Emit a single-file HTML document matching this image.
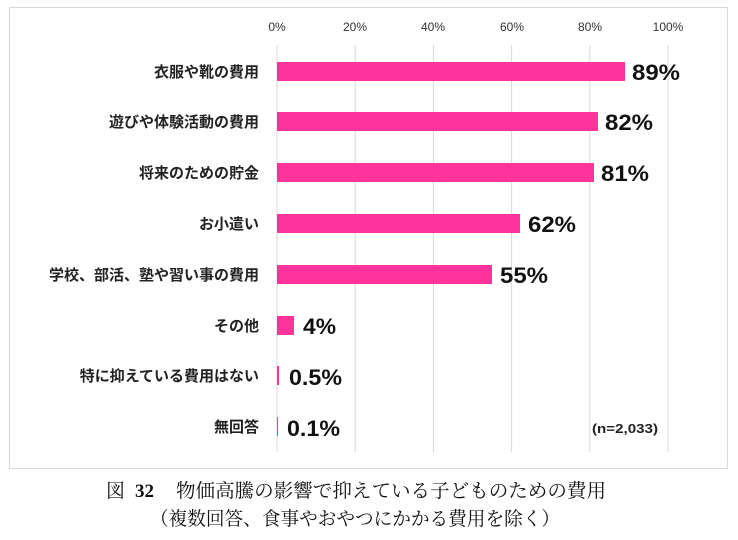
<!DOCTYPE html>
<html><head><meta charset="utf-8"><style>
body{margin:0;background:#fff;}
svg{display:block;}
</style></head><body>
<svg width="738" height="540" xmlns="http://www.w3.org/2000/svg">
<rect x="9.5" y="7.5" width="718" height="461" fill="#fff" stroke="#d9d9d9" stroke-width="1"/>
<g stroke="#d9d9d9" stroke-width="1">
<line x1="277" y1="45" x2="277" y2="452"/>
<line x1="355.2" y1="45" x2="355.2" y2="452"/>
<line x1="433.4" y1="45" x2="433.4" y2="452"/>
<line x1="511.6" y1="45" x2="511.6" y2="452"/>
<line x1="589.8" y1="45" x2="589.8" y2="452"/>
<line x1="668" y1="45" x2="668" y2="452"/>
</g>
<g font-family="Liberation Sans, sans-serif" font-size="12" fill="#333" text-anchor="middle">
<text x="277" y="31">0%</text><text x="355" y="31">20%</text><text x="433" y="31">40%</text>
<text x="512" y="31">60%</text><text x="590" y="31">80%</text><text x="668" y="31">100%</text>
</g>
<g fill="#ff3399">
<rect x="277" y="62" width="348" height="19"/>
<rect x="277" y="112" width="321" height="19"/>
<rect x="277" y="163" width="317" height="19"/>
<rect x="277" y="214" width="243" height="19"/>
<rect x="277" y="265" width="215" height="19"/>
<rect x="277" y="316" width="17" height="19"/>
<rect x="277" y="366" width="2" height="19"/>
<rect x="277" y="417" width="1" height="19"/>
</g>
<g font-family="Liberation Sans, 'Noto Sans CJK JP', sans-serif" font-size="15" font-weight="bold" fill="#222" text-anchor="end">
<text x="259" y="77">衣服や靴の費用</text>
<text x="259" y="127">遊びや体験活動の費用</text>
<text x="259" y="178">将来のための貯金</text>
<text x="259" y="229">お小遣い</text>
<text x="259" y="280">学校、部活、塾や習い事の費用</text>
<text x="259" y="331">その他</text>
<text x="259" y="381">特に抑えている費用はない</text>
<text x="259" y="432">無回答</text>
</g>
<g font-family="Liberation Sans, sans-serif" font-size="22" font-weight="bold" fill="#111">
<text x="632" y="80" textLength="48" lengthAdjust="spacingAndGlyphs">89%</text>
<text x="605" y="130" textLength="48" lengthAdjust="spacingAndGlyphs">82%</text>
<text x="601" y="181" textLength="48" lengthAdjust="spacingAndGlyphs">81%</text>
<text x="528" y="232" textLength="48" lengthAdjust="spacingAndGlyphs">62%</text>
<text x="500" y="283" textLength="48" lengthAdjust="spacingAndGlyphs">55%</text>
<text x="303" y="334" textLength="33" lengthAdjust="spacingAndGlyphs">4%</text>
<text x="289" y="385" textLength="53" lengthAdjust="spacingAndGlyphs">0.5%</text>
<text x="287" y="436" textLength="53" lengthAdjust="spacingAndGlyphs">0.1%</text>
</g>
<text x="592" y="433" font-family="Liberation Sans, sans-serif" font-size="13" font-weight="bold" fill="#222" textLength="66" lengthAdjust="spacingAndGlyphs">(n=2,033)</text>
<g font-family="Liberation Serif, 'Noto Serif CJK SC', serif" font-size="19" fill="#111">
<text x="106" y="497">図</text>
<text x="135" y="497" font-weight="bold">32</text>
<text x="176" y="497" textLength="430" lengthAdjust="spacingAndGlyphs">物価高騰の影響で抑えている子どものための費用</text>
<text x="150" y="525" textLength="410" lengthAdjust="spacingAndGlyphs">（複数回答、食事やおやつにかかる費用を除く）</text>
</g>
</svg>
</body></html>
